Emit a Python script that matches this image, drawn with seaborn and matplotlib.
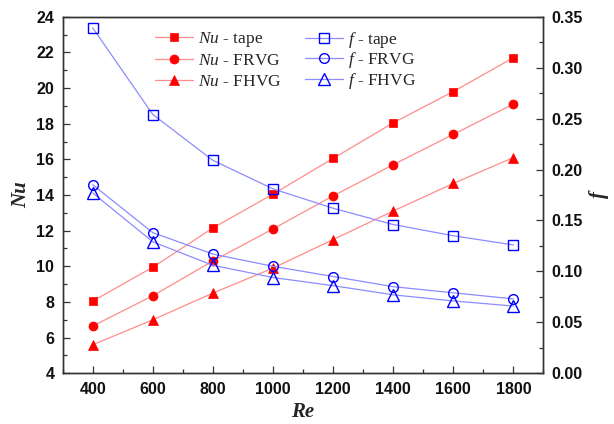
import numpy as np
import pandas as pd
import seaborn as sns
import matplotlib
matplotlib.use("Agg")
import matplotlib.pyplot as plt
from matplotlib.lines import Line2D
from matplotlib.ticker import MultipleLocator

# Reynolds numbers
re_vals = [400, 600, 800, 1000, 1200, 1400, 1600, 1800]

# Nusselt number
nu_tape = [8.05, 9.95, 12.15, 14.05, 16.05, 18.05, 19.8, 21.7]
nu_frvg = [6.65, 8.35, 10.3, 12.1, 13.95, 15.7, 17.4, 19.1]
nu_fhvg = [5.6, 7.0, 8.5, 9.9, 11.5, 13.1, 14.65, 16.1]

# Friction factor
f_tape = [0.339, 0.254, 0.209, 0.181, 0.162, 0.146, 0.135, 0.126]
f_frvg = [0.185, 0.138, 0.117, 0.105, 0.095, 0.085, 0.079, 0.073]
f_fhvg = [0.177, 0.129, 0.106, 0.094, 0.086, 0.077, 0.071, 0.066]

cases = ["tape", "FRVG", "FHVG"]

sns.set_theme(style="white")
plt.rcParams["font.family"] = ["Liberation Sans", "DejaVu Sans"]
plt.rcParams["mathtext.fontset"] = "custom"
plt.rcParams["mathtext.it"] = "Liberation Serif:italic"
plt.rcParams["mathtext.rm"] = "Liberation Serif"

W, H = 614, 424
fig = plt.figure(figsize=(W / 100, H / 100), dpi=100)
ax = fig.add_axes([0.1021, 0.1196, 0.7830, 0.8410])
ax2 = ax.twinx()

red_line = "#ff8c8c"
blue_line = "#8c8cff"
red = "#ff0000"
blue = "#0000ff"

nu_df = pd.DataFrame({"Re": re_vals, "tape": nu_tape, "FRVG": nu_frvg, "FHVG": nu_fhvg})
f_df = pd.DataFrame({"Re": re_vals, "tape": f_tape, "FRVG": f_frvg, "FHVG": f_fhvg})

markers = {"tape": "s", "FRVG": "o", "FHVG": "^"}
nu_sizes = {"tape": 6, "FRVG": 6.5, "FHVG": 7.5}
f_sizes = {"tape": 6.5, "FRVG": 7, "FHVG": 8}

for c in cases:
    sns.lineplot(data=nu_df, x="Re", y=c, ax=ax, color=red_line, lw=0.9,
                 marker=markers[c], markersize=nu_sizes[c],
                 markerfacecolor=red, markeredgecolor=red, markeredgewidth=0.5,
                 zorder=3)
for c in cases:
    sns.lineplot(data=f_df, x="Re", y=c, ax=ax2, color=blue_line, lw=0.9,
                 marker=markers[c], markersize=f_sizes[c],
                 markerfacecolor="none", markeredgecolor=blue, markeredgewidth=1.0,
                 zorder=3)

ax.set_xlim(300, 1900)
ax.set_ylim(4, 24)
ax2.set_ylim(0, 0.35)

ax.xaxis.set_major_locator(MultipleLocator(200))
ax.xaxis.set_minor_locator(MultipleLocator(100))
ax.yaxis.set_major_locator(MultipleLocator(2))
ax.yaxis.set_minor_locator(MultipleLocator(1))
ax2.yaxis.set_major_locator(MultipleLocator(0.05))
ax2.yaxis.set_minor_locator(MultipleLocator(0.025))

tick_font = dict(fontsize=11.5, fontweight="bold", color="#111111")
ax.tick_params(axis="both", which="both", direction="in", color="#333333",
               top=False, right=False, left=True, bottom=True)
ax.tick_params(which="major", length=5, width=0.9, pad=6)
ax.tick_params(which="minor", length=3, width=0.9)
ax2.tick_params(axis="y", which="both", direction="in", color="#333333",
                left=False, right=True)
ax2.tick_params(which="major", length=5, width=0.9, pad=6)
ax2.tick_params(which="minor", length=3, width=0.9)

ax.set_xticks(re_vals)
ax.set_xticklabels([str(v) for v in re_vals], **tick_font)
ax.set_yticklabels([f"{v:g}" for v in ax.get_yticks()], **tick_font)
ax2.set_yticklabels([f"{v:.2f}" for v in ax2.get_yticks()], **tick_font)
ax.set_ylim(4, 24)
ax2.set_ylim(0, 0.35)

for a in (ax, ax2):
    for s in a.spines.values():
        s.set_color("#333333")
        s.set_linewidth(1.0)

label_font = dict(family="Liberation Serif", style="italic", fontweight="bold", fontsize=15)
ax.set_xlabel("Re", labelpad=4, **label_font)
ax.set_ylabel("Nu", labelpad=4, **label_font)
ax2.set_ylabel("f", labelpad=4, rotation=90, **label_font)

# Two legend columns: Nu (filled red) on the left, f (open blue) on the right
nu_handles = [Line2D([], [], color=red_line, lw=0.9, marker=markers[c],
                     markersize=nu_sizes[c], markerfacecolor=red, markeredgecolor=red,
                     markeredgewidth=0.5) for c in cases]
nu_labels = [r"$\mathit{Nu}$ - " + c for c in cases]
f_handles = [Line2D([], [], color=blue_line, lw=0.9, marker=markers[c],
                    markersize=f_sizes[c], markerfacecolor="none", markeredgecolor=blue,
                    markeredgewidth=1.0) for c in cases]
f_labels = [r"$\mathit{f}$ - " + c for c in cases]

leg_common = dict(frameon=False, loc="upper left", borderpad=0, borderaxespad=0,
                  prop={"family": "Liberation Serif", "size": 12.5},
                  handlelength=2.2, handletextpad=0.3, bbox_transform=fig.transFigure)
leg1 = ax2.legend(nu_handles, nu_labels, bbox_to_anchor=(155 / W, 1 - 30 / H),
                  labelspacing=0.25, **leg_common)
ax2.add_artist(leg1)
leg2 = ax2.legend(f_handles, f_labels, bbox_to_anchor=(305 / W, 1 - 30 / H),
                  labelspacing=0.02, **leg_common)

fig.savefig("out.png", dpi=100)
